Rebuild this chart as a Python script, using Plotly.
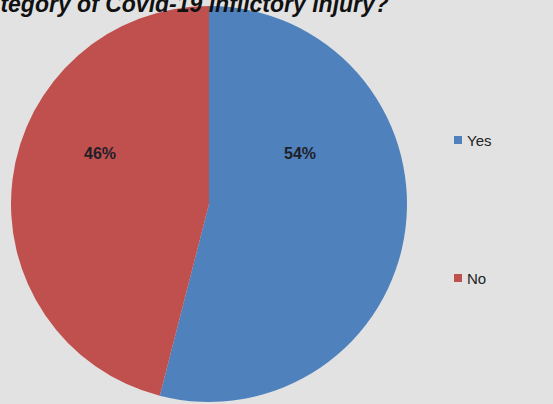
import plotly.graph_objects as go

labels = ["Yes", "No"]
values = [54, 46]
colors = ["#4F81BD", "#C0504D"]
title_text = "Category of Covid-19 inflictory injury?"

W, H = 553, 404
cx, cy, r = 209, 204, 198

fig = go.Figure()
fig.add_trace(go.Pie(
    labels=labels, values=values, sort=False, direction="clockwise", rotation=0,
    marker=dict(colors=colors, line=dict(color="#e0e0e0", width=0)),
    textinfo="none", hoverinfo="label+percent", showlegend=False,
    domain=dict(x=[(cx - r) / W, (cx + r) / W], y=[(H - cy - r) / H, (H - cy + r) / H]),
))

total = sum(values)
label_pos = [(300, 153), (100, 153)]
annotations = []
for v, (px, py) in zip(values, label_pos):
    annotations.append(dict(x=px / W, y=1 - py / H, xref="paper", yref="paper",
                            xanchor="center", yanchor="middle",
                            text=f"<b>{round(100 * v / total)}%</b>", showarrow=False,
                            font=dict(family="Liberation Sans", size=16, color="#1f1f2a")))

legend_pos = [(458, 140), (458, 278)]
shapes = []
for lab, col, (px, py) in zip(labels, colors, legend_pos):
    shapes.append(dict(type="rect", xref="paper", yref="paper",
                       x0=(px - 4) / W, x1=(px + 4) / W, y0=1 - (py + 4) / H, y1=1 - (py - 4) / H,
                       fillcolor=col, line=dict(width=0)))
    annotations.append(dict(x=(px + 7) / W, y=1 - py / H, xref="paper", yref="paper",
                            xanchor="left", yanchor="middle", text=lab, showarrow=False,
                            font=dict(family="Liberation Sans", size=15, color="#222")))

annotations.append(dict(x=-31 / W, y=1 - 19 / H, xref="paper", yref="paper", xanchor="left",
                        yanchor="bottom", text=f"<b><i>{title_text}</i></b>", showarrow=False,
                        font=dict(family="Liberation Sans", size=23, color="#111")))

fig.update_layout(
    width=W, height=H, margin=dict(l=0, r=0, t=0, b=0),
    paper_bgcolor="#e2e2e2", plot_bgcolor="#e2e2e2",
    shapes=shapes, annotations=annotations,
)
fig.write_html("out.html", config={"displayModeBar": False},
               post_script="document.body.style.margin='0';")
